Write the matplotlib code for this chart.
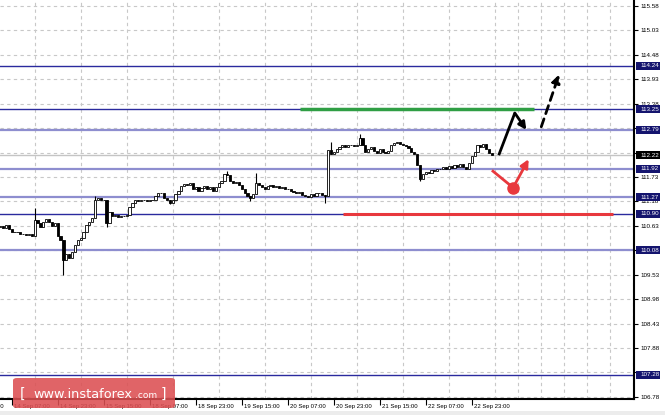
import matplotlib
matplotlib.use("Agg")
from matplotlib import pyplot as plt
from matplotlib.patches import Rectangle, FancyBboxPatch
from matplotlib.transforms import blended_transform_factory, ScaledTranslation

# H1 closes, one per bar (bar 0 = 13 Sep evening)
first_open = 110.60
closes = [
    110.62, 110.58, 110.65, 110.55, 110.50, 110.48, 110.50, 110.45, 110.44, 110.42,
    110.45, 110.40, 110.75, 110.70, 110.60, 110.72, 110.78, 110.72, 110.62, 110.70,
    110.40, 110.30, 109.85, 110.00, 109.90, 110.05, 110.20, 110.30, 110.35, 110.50,
    110.65, 110.72, 110.80, 111.20, 111.25, 111.22, 111.20, 110.70, 110.95, 110.85,
    110.88, 110.82, 110.86, 110.84, 110.88, 111.05, 111.15, 111.20, 111.18, 111.22,
    111.20, 111.18, 111.22, 111.20, 111.30, 111.38, 111.36, 111.25, 111.20, 111.15,
    111.22, 111.35, 111.42, 111.52, 111.58, 111.55, 111.60, 111.45, 111.50, 111.42,
    111.48, 111.52, 111.45, 111.50, 111.42, 111.50, 111.60, 111.65, 111.80, 111.78,
    111.65, 111.60, 111.62, 111.55, 111.45, 111.38, 111.30, 111.25, 111.35, 111.60,
    111.55, 111.50, 111.45, 111.52, 111.55, 111.50, 111.53, 111.48, 111.50, 111.46,
    111.47, 111.42, 111.40, 111.38, 111.40, 111.33, 111.30, 111.28, 111.35, 111.30,
    111.38, 111.36, 111.32, 111.30, 112.34, 112.25, 112.30, 112.35, 112.40, 112.45,
    112.40, 112.46, 112.44, 112.42, 112.45, 112.60, 112.45, 112.30, 112.35, 112.40,
    112.32, 112.28, 112.35, 112.30, 112.27, 112.32, 112.45, 112.50, 112.52, 112.48,
    112.45, 112.42, 112.38, 112.30, 112.25, 112.00, 111.68, 111.80, 111.85, 111.82,
    111.88, 111.86, 111.90, 111.92, 111.95, 111.90, 111.97, 111.93, 112.00, 111.96,
    112.02, 111.95, 111.92, 112.05, 112.20, 112.30, 112.45, 112.40, 112.48, 112.35,
    112.28, 112.22,
]
# notable wicks
wick_high = {12: 111.03, 33: 111.30, 79: 111.86, 89: 111.82, 115: 112.52, 125: 112.70}
wick_low = {22: 109.52, 37: 110.60, 59: 111.12, 87: 111.19, 113: 111.14, 146: 111.64}

price_ticks = [106.78, 107.33, 107.88, 108.43, 108.98, 109.53, 110.08, 110.63, 111.18,
               111.73, 112.28, 112.83, 113.38, 113.93, 114.48, 115.03, 115.58]
hidden_ticks = [107.33]   # fully covered by the 107.28 box in the original
dark_levels = [114.24, 113.25, 110.90, 107.28]
light_levels = [112.79, 111.92, 111.27, 110.08]
current_price = 112.22

time_labels = ["13 Sep 15:00", "14 Sep 07:00", "14 Sep 23:00", "15 Sep 15:00", "18 Sep 07:00",
               "18 Sep 23:00", "19 Sep 15:00", "20 Sep 07:00", "20 Sep 23:00", "21 Sep 15:00",
               "22 Sep 07:00", "22 Sep 23:00"]
time_label_bars = [-12, 4, 20, 36, 52, 68, 84, 100, 116, 132, 148, 164]

# target lines (bar range, price)
green_line = (104.3, 185.7, 113.27)
red_line = (119.2, 213.2, 110.90)
# forecast paths (bar, price)
black_path = [(173.4, 112.22), (179.0, 113.17), (183.0, 112.79)]
dashed_path = [(188.2, 112.86), (194.4, 114.04)]
red_path = [(171.4, 111.86), (178.4, 111.49), (183.8, 112.13)]

plt.rcParams['font.family'] = ['Liberation Sans', 'DejaVu Sans']

fig = plt.figure(figsize=(6.65, 4.15), dpi=100)
ax = fig.add_axes([0, 1 - 399 / 415, 634 / 665, 399 / 415])
ax.set_xlim(-0.07, 220.45)
ax.set_ylim(106.73, 115.715)

# grid
grid_kw = dict(color='#c8c8c8', linestyle=(0, (3, 3)), linewidth=0.8)
ax.set_xticks(range(4, 221, 8), minor=True)
ax.grid(True, which='minor', axis='x', **grid_kw)
ax.set_yticks(price_ticks)
ax.grid(True, which='major', axis='y', **grid_kw)
ax.set_axisbelow(True)

# levels
for lv in light_levels:
    ax.axhline(lv, color='#8e8ecf', lw=1.6, zorder=2)
for lv in dark_levels:
    ax.axhline(lv, color='#2a2a9e', lw=1.0, zorder=2)
ax.axhline(current_price, color='#c4c4c4', lw=1.0, zorder=2)

# candles
opens = [first_open] + closes[:-1]
idx = list(range(len(closes)))
for i in idx:
    if i in wick_high or i in wick_low:
        hi = wick_high.get(i, max(opens[i], closes[i]))
        lo = wick_low.get(i, min(opens[i], closes[i]))
        ax.vlines(i, lo, hi, color='black', lw=0.8, zorder=3)
bottoms = [min(o, c) for o, c in zip(opens, closes)]
heights = [max(abs(c - o), 0.01) for o, c in zip(opens, closes)]
faces = ['white' if c >= o else 'black' for o, c in zip(opens, closes)]
ax.bar(idx, heights, bottom=bottoms, width=0.75, color=faces, edgecolor='black',
       linewidth=0.6, zorder=4)

# targets
ax.hlines(green_line[2], green_line[0], green_line[1], color='#2f9e44', lw=2.5, zorder=5)
ax.hlines(red_line[2], red_line[0], red_line[1], color='#e8383d', lw=2.2, zorder=5)

# forecast arrows
ax.plot([p[0] for p in black_path[:2]], [p[1] for p in black_path[:2]],
        color='black', lw=2, solid_capstyle='butt', zorder=6)
ax.annotate('', xy=black_path[2], xytext=black_path[1],
            arrowprops=dict(arrowstyle='-|>', color='black', lw=2, mutation_scale=11,
                            shrinkA=0, shrinkB=0), zorder=6)
ax.annotate('', xy=dashed_path[1], xytext=dashed_path[0],
            arrowprops=dict(arrowstyle='-|>', color='black', lw=2, mutation_scale=12,
                            linestyle=(0, (3, 2)), shrinkA=0, shrinkB=0), zorder=6)
ax.plot([p[0] for p in red_path[:2]], [p[1] for p in red_path[:2]],
        color='#e8383d', lw=2, zorder=6)
ax.annotate('', xy=red_path[2], xytext=red_path[1],
            arrowprops=dict(arrowstyle='-|>', color='#e8383d', lw=2, mutation_scale=12,
                            shrinkA=0, shrinkB=0), zorder=6)
ax.plot([red_path[1][0]], [red_path[1][1]], 'o', color='#e8383d', ms=8, zorder=7)

# spines / ticks
for s in ['left', 'top']:
    ax.spines[s].set_visible(False)
for s in ['right', 'bottom']:
    ax.spines[s].set_linewidth(1.5)
    ax.spines[s].set_color('black')
ax.yaxis.tick_right()
ax.set_yticklabels(['' if t in hidden_ticks else f'{t:.2f}' for t in price_ticks])
ax.tick_params(axis='y', which='major', length=3, width=0.8, pad=2, labelsize=4.5)
ax.tick_params(axis='x', which='minor', length=0)
ax.set_xticks([b for b in time_label_bars if b >= 0])
ax.set_xticklabels([])
ax.tick_params(axis='x', which='major', length=4, width=0.8)

bt = blended_transform_factory(ax.transData, ax.transAxes)
off = ScaledTranslation(2 / 100, 0, fig.dpi_scale_trans)
for b, lab in zip(time_label_bars, time_labels):
    ax.text(b, -0.018, lab, transform=bt + off, ha='left', va='center',
            fontsize=4.3, clip_on=False)

# right-hand price boxes
rt = blended_transform_factory(ax.transAxes, ax.transData)
box_h = 8 / 44.4
for lv, fc in [(v, '#14146e') for v in dark_levels + light_levels] + [(current_price, 'black')]:
    ax.add_patch(Rectangle((636 / 634, lv - box_h / 2), 24 / 634, box_h, transform=rt,
                           facecolor=fc, edgecolor='none', clip_on=False, zorder=10))
    ax.text(640 / 634, lv, f'{lv:.2f}', transform=rt, ha='left', va='center',
            fontsize=4.5, color='white', clip_on=False, zorder=11)

# watermark
fig.patches.append(Rectangle((0, 0), 1, 4 / 415, transform=fig.transFigure,
                             facecolor='#ececec', edgecolor='none'))
fig.patches.append(FancyBboxPatch((13 / 665, 1 - 408 / 415), 162 / 665, 30 / 415,
                                  boxstyle='round,pad=0,rounding_size=0.006',
                                  transform=fig.transFigure, facecolor='#dc4f52',
                                  edgecolor='none', alpha=0.88, zorder=20))
wy = 1 - 398 / 415
fig.text(20 / 665, wy, '[', fontsize=10, color='white', family='DejaVu Sans', zorder=21)
fig.text(33 / 665, wy, 'www.instaforex', fontsize=9.3, color='white',
         family='DejaVu Sans', zorder=21)
fig.text(135 / 665, wy, '.com', fontsize=6.5, color='white', family='DejaVu Sans', zorder=21)
fig.text(161 / 665, wy, ']', fontsize=10, color='white', family='DejaVu Sans', zorder=21)

fig.savefig('out.png', dpi=100)
